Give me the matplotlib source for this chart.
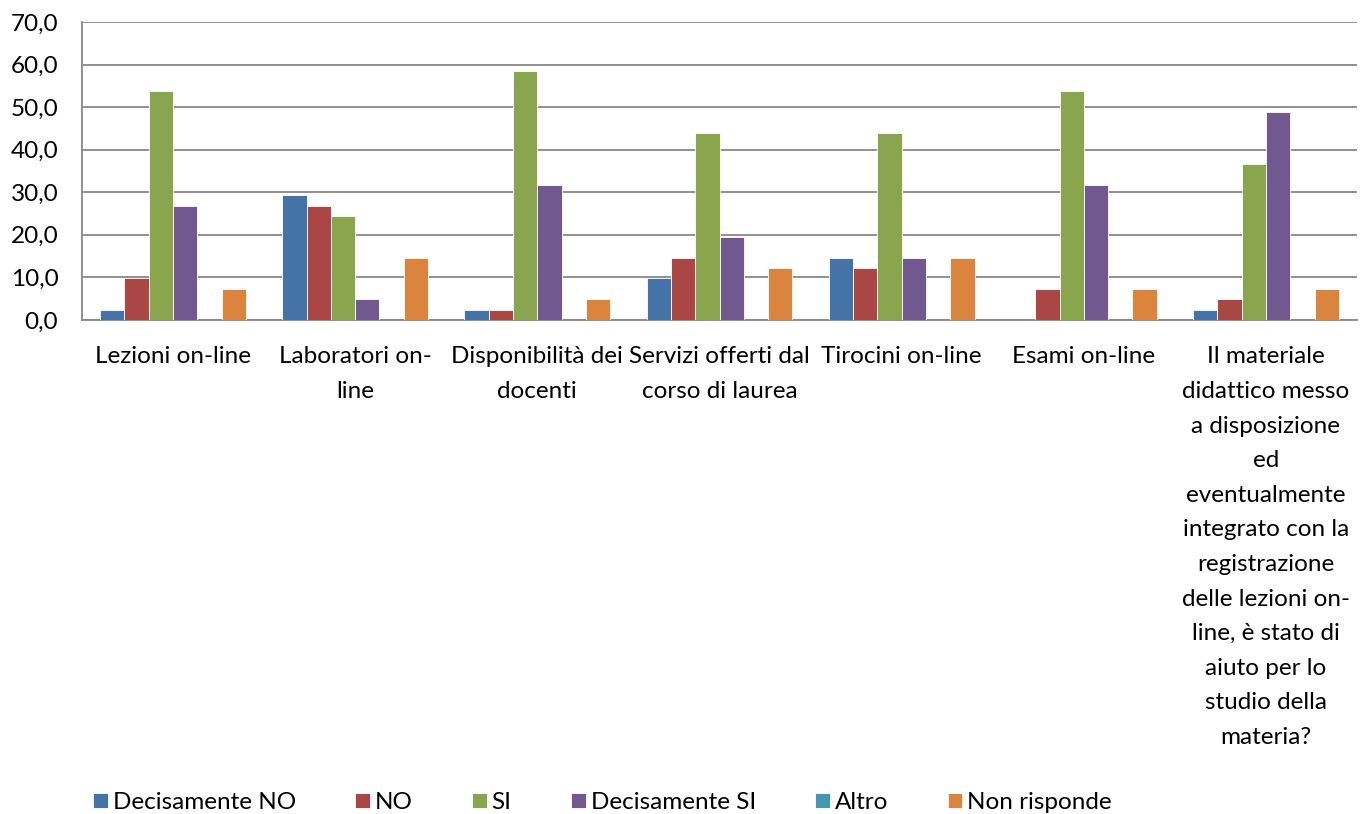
import numpy as np
import matplotlib.pyplot as plt
from matplotlib import rcParams

rcParams['font.family'] = ['Lato', 'DejaVu Sans']
rcParams['font.size'] = 17.5

categories = ['Lezioni on-line', 'Laboratori on-\nline', 'Disponibilità dei\ndocenti',
              'Servizi offerti dal\ncorso di laurea', 'Tirocini on-line', 'Esami on-line',
              'Il materiale\ndidattico messo\na disposizione\ned\neventualmente\nintegrato con la\n'
              'registrazione\ndelle lezioni on-\nline, è stato di\naiuto per lo\nstudio della\nmateria?']
series = ['Decisamente NO', 'NO', 'SI', 'Decisamente SI', 'Altro', 'Non risponde']
colors = ['#4572a7', '#aa4643', '#89a54e', '#71588f', '#4198af', '#db843d']

dec_no = [2.4, 29.3, 2.4, 9.8, 14.6, 0.0, 2.4]
no = [9.8, 26.8, 2.4, 14.6, 12.2, 7.3, 4.9]
si = [53.7, 24.4, 58.5, 43.9, 43.9, 53.7, 36.6]
dec_si = [26.8, 4.9, 31.7, 19.5, 14.6, 31.7, 48.8]
altro = [0.0, 0.0, 0.0, 0.0, 0.0, 0.0, 0.0]
non_risp = [7.3, 14.6, 4.9, 12.2, 14.6, 7.3, 7.3]
values = [dec_no, no, si, dec_si, altro, non_risp]

fig = plt.figure(figsize=(13.71, 8.14), dpi=100)
ax = fig.add_axes([0.0598, 0.6069, 0.9300, 0.3661])

x = np.arange(len(categories))
w = 0.8 / len(series)
for i, (name, vals) in enumerate(zip(series, values)):
    ax.bar(x - 0.4 + w * (i + 0.5), vals, width=w, color=colors[i],
           edgecolor='white', linewidth=0.6, label=name, zorder=3)

ax.set_xlim(-0.5, len(categories) - 0.5)
ax.set_ylim(0, 70)
ax.set_yticks(np.arange(0, 71, 10))
ax.set_yticklabels([f'{v:.1f}'.replace('.', ',') for v in np.arange(0, 71, 10)])
ax.set_xticks(x)
ax.set_xticklabels(categories, linespacing=1.8, va='top')
ax.tick_params(axis='x', length=0, pad=19)
ax.tick_params(axis='y', length=0, pad=17)
ax.grid(axis='y', color='#888888', linewidth=1.3, zorder=0)
for s in ['top', 'right']:
    ax.spines[s].set_visible(False)
ax.spines['left'].set_color('#888888')
ax.spines['bottom'].set_color('#888888')
ax.spines['left'].set_linewidth(1.3)
ax.spines['bottom'].set_linewidth(1.3)

fig.legend(loc='lower left', bbox_to_anchor=(0.0556, -0.02), ncol=6, frameon=False,
           handlelength=0.6, handleheight=0.6, handletextpad=0.2, columnspacing=2.45,
           fontsize=17.5, borderpad=0.2)

fig.savefig('out.png', dpi=100)
